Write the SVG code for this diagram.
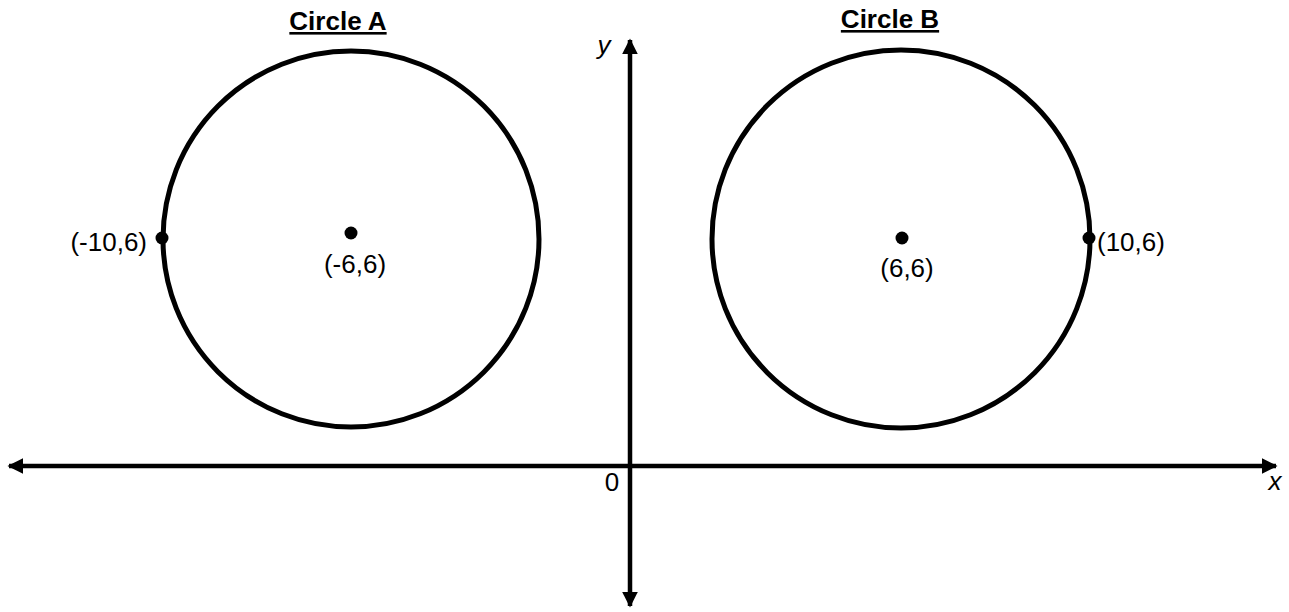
<svg xmlns="http://www.w3.org/2000/svg" width="1289" height="612" viewBox="0 0 1289 612">
<style>
.c{fill:none;stroke:#000;stroke-width:5}
.ax{stroke:#000;stroke-width:4.5}
.d{fill:#000}
.t{font-family:"Liberation Sans",Arial,sans-serif;font-size:26px;fill:#000}
.h{font-weight:bold;text-decoration:underline}
.i{font-style:italic}
</style>
<defs>
<marker id="ah" viewBox="0 0 10 10" refX="9" refY="5" markerWidth="3.5" markerHeight="3.5" orient="auto-start-reverse" markerUnits="strokeWidth">
<path d="M0,0 L10,5 L0,10 z" fill="#000"/>
</marker>
</defs>
<rect width="1289" height="612" fill="#fff"/>
<g id="connectors">
<line class="ax" x1="9" y1="466" x2="1276" y2="466" marker-start="url(#ah)" marker-end="url(#ah)"/>
<line class="ax" x1="630" y1="40" x2="630" y2="606" marker-start="url(#ah)" marker-end="url(#ah)"/>
</g>
<g id="circleA">
<circle class="c" cx="351" cy="239" r="188"/>
<text class="t h" x="338" y="30" text-anchor="middle">Circle A</text>
<circle class="d" cx="351" cy="233" r="6.5"/>
<text class="t" x="355" y="273" text-anchor="middle">(-6,6)</text>
<circle class="d" cx="162" cy="238" r="6.5"/>
<text class="t" x="147" y="251" text-anchor="end">(-10,6)</text>
</g>
<g id="circleB">
<circle class="c" cx="901" cy="239" r="189"/>
<text class="t h" x="890" y="28" text-anchor="middle">Circle B</text>
<circle class="d" cx="902" cy="238" r="6.5"/>
<text class="t" x="907" y="277" text-anchor="middle">(6,6)</text>
<circle class="d" cx="1089" cy="238" r="6.5"/>
<text class="t" x="1097" y="251">(10,6)</text>
</g>
<g id="labels">
<text class="t i" x="604" y="54" text-anchor="middle">y</text>
<text class="t" x="612" y="491" text-anchor="middle">0</text>
<text class="t i" x="1275" y="490" text-anchor="middle">x</text>
</g>
</svg>
